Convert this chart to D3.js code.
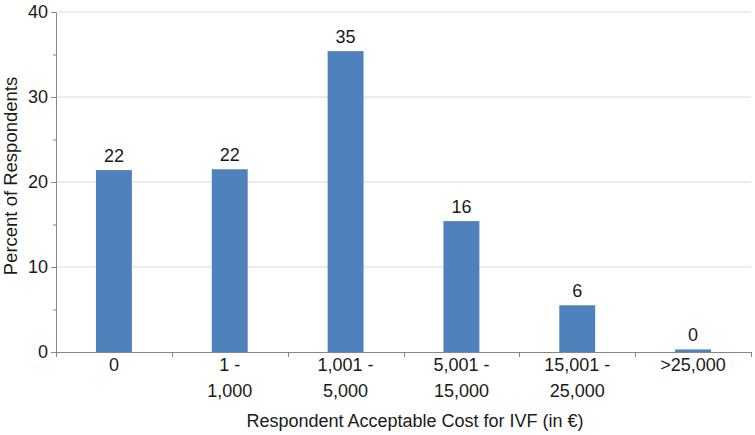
<!DOCTYPE html>
<html><head><meta charset="utf-8">
<script src="https://cdn.jsdelivr.net/npm/d3@7"></script>
<style>
body{margin:0;background:#fff;}
text{font-family:"Liberation Sans",Arial,sans-serif;fill:#1a1a1a;}
</style></head><body>
<svg id="c" width="755" height="435"></svg>
<script>
const categories = [["0"],["1 -","1,000"],["1,001 -","5,000"],["5,001 -","15,000"],["15,001 -","25,000"],[">25,000"]];
const values = [21.4, 21.5, 35.4, 15.4, 5.5, 0.3];
const valueLabels = ["22","22","35","16","6","0"];
const yTicks = [0,10,20,30,40];
const yMinorTicks = [5,15,25,35];
const xTitle = "Respondent Acceptable Cost for IVF (in €)";
const yTitle = "Percent of Respondents";

const svg = d3.select("#c");
const L = 56, R = 751, T = 12, B = 352;
const FS = "18px";
const x = d3.scaleBand().domain(d3.range(categories.length)).range([L, R]).paddingInner(0.69).paddingOuter(0.345);
const y = d3.scaleLinear().domain([0,40]).range([B, T]);
const axisColor = "#868686";

// gridlines
svg.append("g").selectAll("line").data(yTicks.filter(d=>d>0)).join("line")
  .attr("x1", L).attr("x2", R).attr("y1", d=>y(d)).attr("y2", d=>y(d))
  .attr("stroke", "#d9d9d9").attr("stroke-width", 1);

// bars
svg.append("g").selectAll("rect").data(values).join("rect")
  .attr("x", (d,i)=>x(i)).attr("width", x.bandwidth())
  .attr("y", d=>y(d)).attr("height", d=>B - y(d))
  .attr("fill", "#4f81bd");

// value labels
svg.append("g").selectAll("text").data(values).join("text")
  .attr("x", (d,i)=>x(i)+x.bandwidth()/2).attr("y", d=>y(d)-8)
  .attr("text-anchor","middle").attr("font-size",FS)
  .text((d,i)=>valueLabels[i]);

// y axis
const yAxis = d3.axisLeft(y).tickValues(yTicks).tickSize(5).tickPadding(3).tickSizeOuter(0);
const gy = svg.append("g").attr("transform", `translate(${L},0)`).call(yAxis);
gy.select(".domain").attr("stroke", axisColor);
gy.selectAll(".tick line").attr("stroke", axisColor);
gy.selectAll(".tick text").attr("font-size",FS).attr("font-family","Liberation Sans, Arial, sans-serif").attr("fill","#1a1a1a");
const yMinor = d3.axisLeft(y).tickValues(yMinorTicks).tickSize(3).tickFormat("").tickSizeOuter(0);
const gym = svg.append("g").attr("transform", `translate(${L},0)`).call(yMinor);
gym.select(".domain").remove();
gym.selectAll(".tick line").attr("stroke", axisColor);

// x axis line and boundary ticks
const boundaries = d3.range(categories.length+1).map(i => L + i*(R-L)/categories.length);
svg.append("line").attr("x1", L).attr("x2", R).attr("y1", B+0.5).attr("y2", B+0.5).attr("stroke", axisColor);
svg.append("g").selectAll("line").data(boundaries).join("line")
  .attr("x1", d=>Math.round(d)+0.5).attr("x2", d=>Math.round(d)+0.5)
  .attr("y1", B).attr("y2", B+5).attr("stroke", axisColor);

// x category labels
const xl = svg.append("g").selectAll("text").data(categories).join("text")
  .attr("x", (d,i)=>x(i)+x.bandwidth()/2).attr("y", 371)
  .attr("text-anchor","middle").attr("font-size",FS);
xl.selectAll("tspan").data(d=>d).join("tspan")
  .attr("x", function(){return this.parentNode.getAttribute("x");})
  .attr("dy", (d,j)=> j===0 ? 0 : 26).text(d=>d);

// titles
svg.append("text").attr("x", 415).attr("y", 427).attr("text-anchor","middle")
  .attr("font-size",FS).text(xTitle);
svg.append("text").attr("transform", `translate(17,176) rotate(-90)`)
  .attr("text-anchor","middle").attr("font-size","18.5px").text(yTitle);
</script>
</body></html>
